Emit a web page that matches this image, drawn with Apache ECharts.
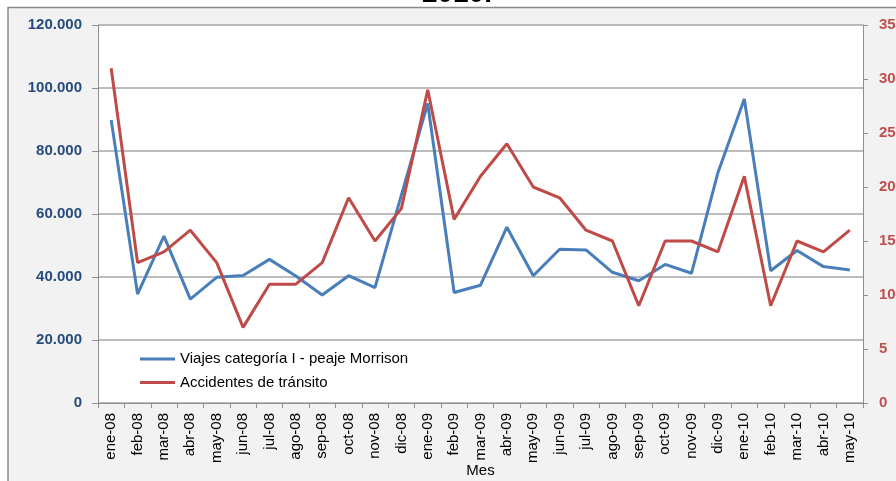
<!DOCTYPE html>
<html>
<head>
<meta charset="utf-8">
<style>
  html, body { margin: 0; padding: 0; background: #ffffff; overflow: hidden; }
  #chart { width: 896px; height: 481px; }
</style>
<script src="https://cdn.jsdelivr.net/npm/echarts@6/dist/echarts.min.js"></script>
</head>
<body>
<div id="chart"></div>
<script>
// Monthly categories, Jan 2008 – May 2010
const meses = [
  'ene-08','feb-08','mar-08','abr-08','may-08','jun-08','jul-08','ago-08','sep-08','oct-08','nov-08','dic-08',
  'ene-09','feb-09','mar-09','abr-09','may-09','jun-09','jul-09','ago-09','sep-09','oct-09','nov-09','dic-09',
  'ene-10','feb-10','mar-10','abr-10','may-10'
];

// Category I trips through the Morrison toll (left axis)
const viajes = [
  89800, 34600, 53000, 33000, 39900, 40500, 45600, 40300, 34300, 40400, 36600, 66000,
  95100, 35100, 37400, 55800, 40400, 48800, 48600, 41500, 38800, 44000, 41200, 73100,
  96500, 42000, 48400, 43300, 42200
];

// Traffic accidents (right axis)
const accidentes = [
  31, 13, 14, 16, 13, 7, 11, 11, 13, 19, 15, 18,
  29, 17, 21, 24, 20, 19, 16, 15, 9, 15, 15, 14,
  21, 9, 15, 14, 16
];

const nombreViajes = 'Viajes categoría I - peaje Morrison';
const nombreAccidentes = 'Accidentes de tránsito';
const tituloAnio = '2010.';
const tituloEjeX = 'Mes';

const FONT = '"Liberation Sans", Arial, sans-serif';
const AZUL = '#4A7EBB';
const ROJO = '#BE4B48';
const EJE = '#8E8E8E';

function miles(v) {
  return String(v).replace(/\B(?=(\d{3})+(?!\d))/g, '.');
}

const chart = echarts.init(document.getElementById('chart'), null, { renderer: 'canvas' });

chart.setOption({
  backgroundColor: '#ffffff',
  animation: false,
  graphic: [
    {
      type: 'rect',
      z: -10,
      shape: { x: 8, y: 7.5, width: 900, height: 490 },
      style: { fill: '#F2F2F2', stroke: '#8A8A8A', lineWidth: 1.5 }
    },
    {
      type: 'text',
      z: -20,
      style: {
        text: tituloAnio,
        x: 457, y: 8,
        align: 'center', verticalAlign: 'bottom',
        font: 'bold 28px ' + FONT,
        fill: '#000000'
      }
    }
  ],
  grid: {
    left: 98, right: 33, top: 25, bottom: 78,
    outerBoundsMode: 'none',
    containLabel: false,
    show: true, backgroundColor: '#ffffff', borderWidth: 0
  },
  legend: {
    orient: 'vertical',
    left: 135, top: 346,
    itemWidth: 35, itemHeight: 3, itemGap: 7.4,
    icon: 'rect',
    textStyle: { fontFamily: FONT, fontSize: 15, color: '#000000', lineHeight: 16 },
    data: [nombreViajes, nombreAccidentes]
  },
  xAxis: {
    type: 'category',
    data: meses,
    boundaryGap: true,
    name: tituloEjeX,
    nameLocation: 'middle',
    nameGap: 60,
    nameMoveOverlap: false,
    nameTextStyle: { fontFamily: FONT, fontSize: 15, color: '#000000' },
    axisLine: { lineStyle: { color: EJE, width: 1 } },
    axisTick: { show: true, alignWithLabel: false, length: 5, lineStyle: { color: EJE } },
    axisLabel: {
      rotate: 90, interval: 0, margin: 10,
      fontFamily: FONT, fontSize: 15, color: '#000000'
    },
    splitLine: { show: false }
  },
  yAxis: [
    {
      type: 'value',
      min: 0, max: 120000, interval: 20000,
      position: 'left',
      axisLine: { show: true, lineStyle: { color: EJE } },
      axisTick: { show: true, length: 6, lineStyle: { color: EJE } },
      axisLabel: {
        margin: 16, formatter: miles,
        fontFamily: FONT, fontSize: 15, fontWeight: 'bold', color: '#254C7E'
      },
      splitLine: { show: true, lineStyle: { color: '#A6A6A6', width: 1.5 } }
    },
    {
      type: 'value',
      min: 0, max: 35, interval: 5,
      position: 'right',
      axisLine: { show: true, lineStyle: { color: EJE } },
      axisTick: { show: true, length: 5, lineStyle: { color: EJE } },
      axisLabel: {
        margin: 16,
        fontFamily: FONT, fontSize: 15, fontWeight: 'bold', color: '#C0504D'
      },
      splitLine: { show: false }
    }
  ],
  series: [
    {
      name: nombreViajes,
      type: 'line',
      yAxisIndex: 0,
      data: viajes,
      symbol: 'none',
      color: AZUL,
      lineStyle: { color: AZUL, width: 3 }
    },
    {
      name: nombreAccidentes,
      type: 'line',
      yAxisIndex: 1,
      data: accidentes,
      symbol: 'none',
      color: ROJO,
      lineStyle: { color: ROJO, width: 3 }
    }
  ]
});
</script>
</body>
</html>
